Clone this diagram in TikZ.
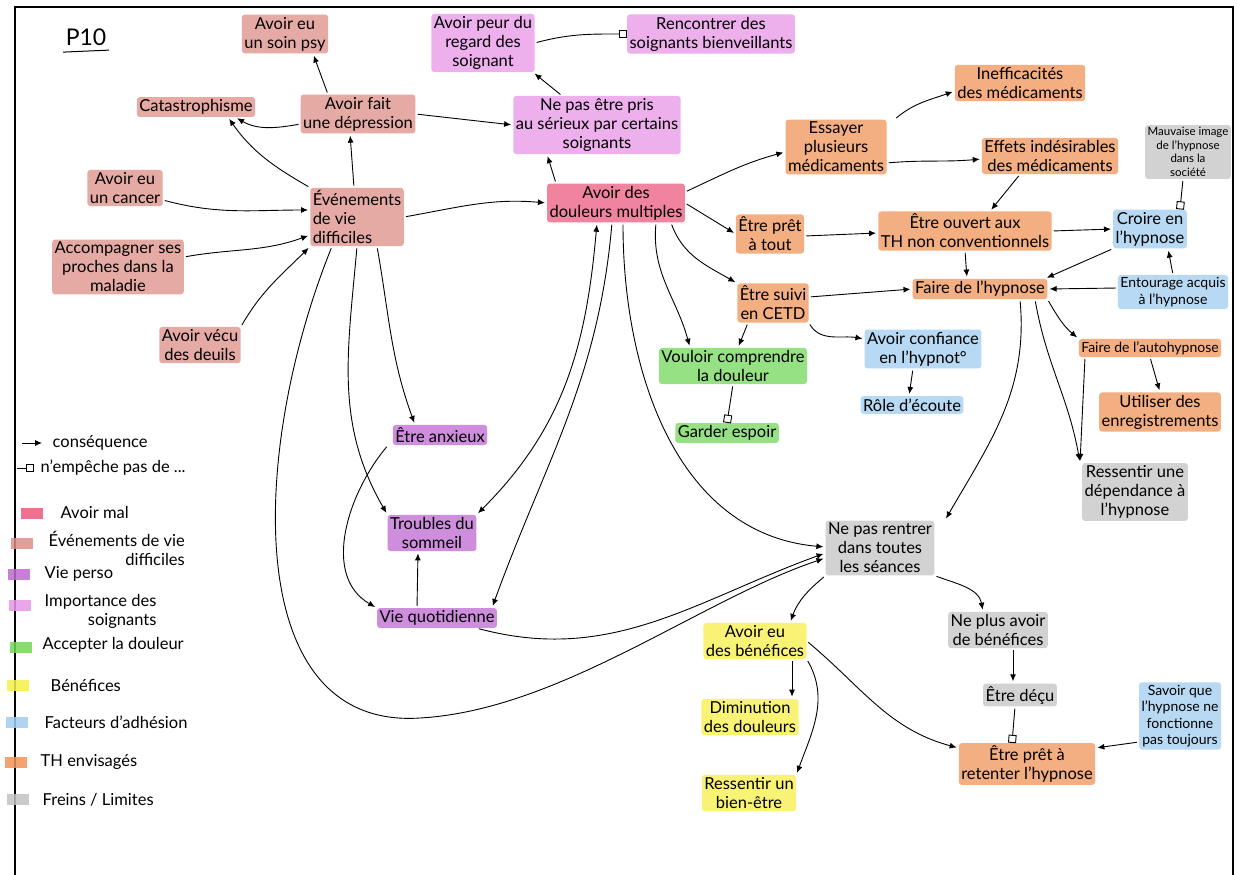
\documentclass[tikz,border=0pt]{standalone}
\usepackage{fontspec}
\setmainfont{Lato}
\usetikzlibrary{arrows.meta}
\definecolor{cMal}{RGB}{236,90,125}
\definecolor{cEvt}{RGB}{222,142,135}
\definecolor{cVie}{RGB}{190,105,210}
\definecolor{cSoin}{RGB}{232,150,232}
\definecolor{cAcc}{RGB}{115,215,90}
\definecolor{cBen}{RGB}{246,240,70}
\definecolor{cAdh}{RGB}{160,205,240}
\definecolor{cTh}{RGB}{240,148,88}
\definecolor{cFrein}{RGB}{195,195,195}
\tikzset{
  hl/.style={fill=#1, fill opacity=0.75, text opacity=1, rounded corners=3pt},
  sMal/.style={hl=cMal}, sEvt/.style={hl=cEvt}, sVie/.style={hl=cVie},
  sSoin/.style={hl=cSoin}, sAcc/.style={hl=cAcc}, sBen/.style={hl=cBen},
  sAdh/.style={hl=cAdh}, sTh/.style={hl=cTh}, sFrein/.style={hl=cFrein},
  arr/.style={-{Latex[length=7pt,width=6pt]}, line width=0.9pt, shorten >=2pt, shorten <=2pt},
  dbl/.style={{Latex[length=7pt,width=6pt]}-{Latex[length=7pt,width=6pt]}, line width=0.9pt, shorten >=2pt, shorten <=2pt},
  blk/.style={-{Square[open,length=8pt,width=8pt]}, line width=0.9pt, shorten <=2pt},
  swatch/.style={minimum width=22pt, minimum height=11pt, inner sep=0pt, fill opacity=0.85},
  small/.style={font=\fontsize{14}{16.5}\selectfont},
  tiny/.style={font=\fontsize{11.5}{13.5}\selectfont},
}
\begin{document}
\begin{tikzpicture}[x=1pt,y=-1pt,
  every node/.style={font=\fontsize{16.5}{19}\selectfont, align=center, inner sep=2.5pt}]
\useasboundingbox (0,0) rectangle (1237,875);
\fill[white] (0,0) rectangle (1237,875);
\draw[line width=1.5pt] (15,875) -- (15,7) -- (1233,7) -- (1233,875);

% title
\node[font=\fontsize{23}{25}\selectfont] (p10) at (86,37) {P10};
\draw[line width=1pt] ([yshift=-4pt]p10.south west) -- ([yshift=-2pt]p10.south east);

% nodes
\node[sEvt] (psy) at (285,34) {Avoir eu\\un soin psy};
\node[sEvt] (cata) at (196,107) {Catastrophisme};
\node[sEvt] (dep) at (358,114) {Avoir fait\\une dépression};
\node[sEvt] (cancer) at (125,188) {Avoir eu\\un cancer};
\node[sEvt] (accomp) at (118,267) {Accompagner ses\\proches dans la\\maladie};
\node[sEvt] (deuils) at (200,345) {Avoir vécu\\des deuils};
\node[sEvt, align=left] (evt) at (357,217) {Événements\\de vie\\difficiles};
\node[sSoin] (peur) at (483,43) {Avoir peur du\\regard des\\soignant};
\node[sSoin] (renc) at (711,34) {Rencontrer des\\soignants bienveillants};
\node[sSoin] (serieux) at (597,125) {Ne pas être pris\\au sérieux par certains\\soignants};
\node[sMal] (doul) at (616,203) {Avoir des\\douleurs multiples};
\node[sTh] (essay) at (836,147) {Essayer\\plusieurs\\médicaments};
\node[sTh] (ineff) at (1020,83) {Inefficacités\\des médicaments};
\node[sTh] (effets) at (1050,156) {Effets indésirables\\des médicaments};
\node[sFrein, tiny] (mauv) at (1188,152) {Mauvaise image\\de l'hypnose\\dans la\\société};
\node[sTh] (pret) at (770,234) {Être prêt\\à tout};
\node[sTh] (ouvert) at (965,231) {Être ouvert aux\\TH non conventionnels};
\node[sAdh] (croire) at (1150,229) {Croire en\\l'hypnose};
\node[sTh] (faire) at (980,289) {Faire de l'hypnose};
\node[sAdh, small] (entour) at (1173,292) {Entourage acquis\\à l'hypnose};
\node[sTh] (suivi) at (773,303) {Être suivi\\en CETD};
\node[sAdh] (conf) at (923,349) {Avoir confiance\\en l'hypnot°};
\node[sAdh] (role) at (912,405) {Rôle d'écoute};
\node[sTh, small] (auto) at (1150,348) {Faire de l'autohypnose};
\node[sTh] (enreg) at (1160,412) {Utiliser des\\enregistrements};
\node[sFrein] (depend) at (1135,492) {Ressentir une\\dépendance à\\l'hypnose};
\node[sAcc] (vouloir) at (733,366) {Vouloir comprendre\\la douleur};
\node[sAcc] (espoir) at (727,433) {Garder espoir};
\node[sVie] (anx) at (440,435) {Être anxieux};
\node[sVie] (troub) at (432,533) {Troubles du\\sommeil};
\node[sVie] (vieq) at (437,618) {Vie quotidienne};
\node[sFrein] (nepas) at (880,548) {Ne pas rentrer\\dans toutes\\les séances};
\node[sFrein] (neplus) at (998,630) {Ne plus avoir\\de bénéfices};
\node[sFrein] (decu) at (1020,695) {Être déçu};
\node[sTh] (retenter) at (1027,764) {Être prêt à\\retenter l'hypnose};
\node[sAdh, small] (savoir) at (1180,716) {Savoir que\\l'hypnose ne\\fonctionne\\pas toujours};
\node[sBen] (benef) at (755,641) {Avoir eu\\des bénéfices};
\node[sBen] (dimin) at (750,717) {Diminution\\des douleurs};
\node[sBen] (bienetre) at (749,793) {Ressentir un\\bien-être};

% edges: événements de vie difficiles
\draw[arr] ([xshift=-30pt]dep.north) -- ([xshift=28pt]psy.south);
\draw[arr] ([yshift=-10pt]dep.west) to[out=190,in=-30] ([xshift=-20pt]cata.south east);
\draw[arr] (evt.north west) to[out=150,in=-55] ([xshift=32pt]cata.south);
\draw[arr] ([xshift=-3pt]evt.north) -- ([xshift=-8pt]dep.south);
\draw[arr] ([yshift=-12pt]cancer.east) to[out=-15,in=180] ([yshift=7pt]evt.west);
\draw[arr] ([yshift=10pt]accomp.east) to[out=10,in=200] ([yshift=-18pt]evt.west);
\draw[arr] (deuils.north east) to[out=60,in=225] (evt.south west);
\draw[arr] (dep.east) -- (serieux.west);
\draw[arr] (evt.east) to[out=10,in=175] (doul.west);

% soignants
\draw[arr] ([xshift=-35pt]serieux.north) -- ([xshift=50pt]peur.south);
\draw[blk] (peur.east) to[out=15,in=180] (renc.west);
\draw[arr] ([xshift=-60pt]doul.north) -- ([xshift=-50pt]serieux.south);

% médicaments et TH
\draw[arr] ([yshift=11pt]doul.east) to[out=25,in=195] ([yshift=-5pt]essay.west);
\draw[arr] ([xshift=8pt]essay.north east) to[out=40,in=200] ([yshift=-8pt]ineff.west);
\draw[arr] ([yshift=-16pt]essay.east) to[out=5,in=185] ([yshift=-3pt]effets.west);
\draw[arr] ([xshift=-30pt]effets.south) -- ([xshift=25pt]ouvert.north);
\draw[arr] (doul.east) -- (pret.west);
\draw[arr] ([yshift=-2pt]pret.east) -- ([yshift=-2pt]ouvert.west);
\draw[arr] (ouvert.east) -- (croire.west);
\draw[arr] (ouvert.south) -- ([xshift=-13pt]faire.north);
\draw[arr] (croire.south west) -- ([xshift=65pt]faire.north);
\draw[blk] ([xshift=-5pt]mauv.south) -- ([xshift=30pt]croire.north);
\draw[arr] (entour.north) -- ([xshift=18pt]croire.south);
\draw[arr] ([yshift=4pt]entour.west) -- (faire.east);
\draw[arr] ([yshift=6pt]suivi.east) -- (faire.west);
\draw[arr] (suivi.south east) to[out=-60,in=170] ([yshift=10pt]conf.west);
\draw[arr] ([xshift=-25pt]suivi.south) -- ([xshift=5pt]vouloir.north);
\draw[arr] ([xshift=55pt]doul.south) to[out=-70,in=150] (suivi.north west);
\draw[arr] ([xshift=40pt]doul.south) to[out=-95,in=105] ([xshift=-43pt]vouloir.north);
\draw[blk] (vouloir.south) -- (espoir.north);
\draw[arr] ([xshift=-10pt]conf.south) -- ([xshift=-3pt]role.north);
\draw[arr] (faire.south east) to[out=-60,in=140] (auto.north west);
\draw[arr] (auto.south) -- (enreg.north);
\draw[arr] ([xshift=55pt]faire.south) to[out=-80,in=100] ([xshift=-55pt]depend.north);
\draw[arr] ([xshift=-65pt]auto.south) -- ([xshift=-55pt]depend.north);
\draw[arr] ([xshift=40pt]faire.south) to[out=-85,in=60] ([xshift=65pt]nepas.north);

% freins et bénéfices
\draw[arr] (nepas.south west) to[out=220,in=70] ([xshift=35pt]benef.north);
\draw[arr] (nepas.south east) to[out=-20,in=100] ([xshift=-15pt]neplus.north);
\draw[arr] ([xshift=15pt]neplus.south) -- ([xshift=-7pt]decu.north);
\draw[blk] ([xshift=-5pt]decu.south) -- ([xshift=-15pt]retenter.north);
\draw[arr] ([yshift=-26pt]savoir.west) -- ([yshift=16pt]retenter.east);
\draw[arr] (benef.east) to[out=-40,in=165] ([yshift=16pt]retenter.west);
\draw[arr] ([xshift=37pt]benef.south) -- ([xshift=42pt]dimin.north);
\draw[arr] (benef.south east) to[out=-60,in=70] (bienetre.north east);

% vie perso
\draw[arr] ([xshift=7pt]doul.south) to[out=-90,in=175] ([yshift=1pt]nepas.west);
\draw[dbl] ([xshift=-19pt]doul.south) to[out=-95,in=45] (troub.north east);
\draw[arr] ([xshift=-4pt]doul.south) to[out=-95,in=70] ([xshift=55pt]vieq.north);
\draw[arr] ([xshift=40pt]vieq.south) to[out=-15,in=200] ([yshift=-5pt]nepas.west);
\draw[arr] ([xshift=-25pt]evt.south) .. controls (250,450) and (240,730) .. (420,718)
   .. controls (560,710) and (700,600) .. ([yshift=-10pt]nepas.west);
\draw[arr] ([xshift=20pt]evt.south) to[out=-80,in=110] ([xshift=-25pt]anx.north);
\draw[arr] (evt.south) to[out=-95,in=120] (troub.north west);
\draw[arr] ([xshift=-52pt]anx.south) to[out=-130,in=150] ([yshift=10pt]vieq.west);
\draw[arr] ([xshift=-20pt]vieq.north) -- ([xshift=-14pt]troub.south);

% legend
\coordinate (la1) at (22,443);
\coordinate (la2) at (42,443);
\draw[-{Latex[length=7pt,width=6pt]}, line width=0.9pt] (la1) -- (la2);
\node[anchor=west] (lgA) at (50,443) {conséquence};
\coordinate (lb1) at (17,468);
\coordinate (lb2) at (34,468);
\draw[-{Square[open,length=8pt,width=8pt]}, line width=0.9pt] (lb1) -- (lb2);
\node[anchor=west] (lgB) at (38,468) {n'empêche pas de ...};
\node[swatch, fill=cMal] (sw1) at (32,513) {};
\node[anchor=west] (lg1) at (58,512) {Avoir mal};
\node[swatch, fill=cEvt] (sw2) at (22,543) {};
\node[anchor=west, align=right] (lg2) at (46,548) {Événements de vie\\difficiles};
\node[swatch, fill=cVie] (sw3) at (19,574) {};
\node[anchor=west] (lg3) at (42,574) {Vie perso};
\node[swatch, fill=cSoin] (sw4) at (20,605) {};
\node[anchor=west, align=right] (lg4) at (42,611) {Importance des\\soignants};
\node[swatch, fill=cAcc] (sw5) at (21,647) {};
\node[anchor=west] (lg5) at (40,645) {Accepter la douleur};
\node[swatch, fill=cBen] (sw6) at (18,685) {};
\node[anchor=west] (lg6) at (48,685) {Bénéfices};
\node[swatch, fill=cAdh] (sw7) at (17,722) {};
\node[anchor=west] (lg7) at (42,722) {Facteurs d'adhésion};
\node[swatch, fill=cTh] (sw8) at (16,762) {};
\node[anchor=west] (lg8) at (38,762) {TH envisagés};
\node[swatch, fill=cFrein] (sw9) at (18,799) {};
\node[anchor=west] (lg9) at (40,800) {Freins / Limites};
\end{tikzpicture}
\end{document}
